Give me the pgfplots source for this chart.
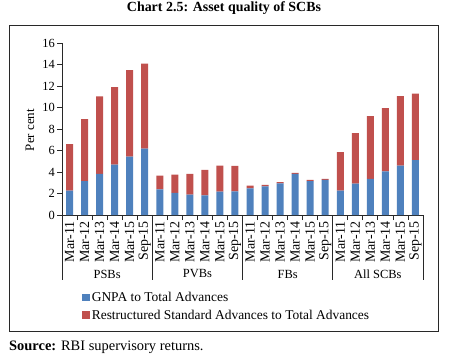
\documentclass[border=0pt]{standalone}
\usepackage{pgfplots}
\pgfplotsset{compat=1.18}
\usepackage{pgfplotstable}
\usepackage{fontspec}
\setmainfont{Liberation Serif}
\definecolor{cblue}{RGB}{79,129,189}
\definecolor{cred}{RGB}{192,80,77}
\definecolor{cline}{RGB}{40,40,40}
\pgfplotstableread{
x gnpa rsa
0 2.26 4.33
1 3.14 5.78
2 3.82 7.21
3 4.69 7.21
4 5.43 8.05
5 6.18 7.89
6 2.39 1.28
7 2.05 1.71
8 1.90 1.92
9 1.83 2.36
10 2.17 2.43
11 2.20 2.37
12 2.48 0.25
13 2.67 0.13
14 2.95 0.12
15 3.82 0.09
16 3.14 0.12
17 3.26 0.09
18 2.27 3.57
19 2.92 4.69
20 3.36 5.84
21 4.07 5.87
22 4.60 6.46
23 5.10 6.20
}\datatable
\begin{document}
\begin{tikzpicture}[x=1bp,y=1bp]
\path[use as bounding box] (0,0) rectangle (451,359);
\draw[line width=0.9bp, cline] (9,28) rectangle (438,334);
\node[font=\fontsize{14}{16}\selectfont\bfseries] at (224,351) {Chart 2.5: Asset quality of SCBs};
\node[anchor=west, font=\fontsize{14.5}{16}\selectfont, inner sep=0] at (9,12) {\textbf{Source:} RBI supervisory returns.};
\begin{axis}[
  at={(62bp,144bp)}, anchor=south west,
  scale only axis, width=361bp, height=172bp,
  xmin=-0.5, xmax=23.5, ymin=0, ymax=16,
  ybar stacked, bar width=7bp,
  axis x line*=bottom, axis y line*=left,
  axis line style={cline, line width=0.8bp, -},
  clip=false,
  tick align=outside,
  ytick={0,2,...,16},
  xtick={0,...,23},
  xticklabels={Mar-11,Mar-12,Mar-13,Mar-14,Mar-15,Sep-15,Mar-11,Mar-12,Mar-13,Mar-14,Mar-15,Sep-15,Mar-11,Mar-12,Mar-13,Mar-14,Mar-15,Sep-15,Mar-11,Mar-12,Mar-13,Mar-14,Mar-15,Sep-15},
  minor xtick={-0.5,0.5,...,23.5},
  major tick length=5bp,
  x tick style={draw=none},
  minor x tick style={draw=cline, line width=0.8bp},
  minor tick length=5bp,
  y tick style={cline, line width=0.8bp},
  /pgf/number format/assume math mode=true,
  yticklabel style={font=\fontsize{12.5}{14}\selectfont, inner sep=2bp},
  xticklabel style={rotate=90, anchor=east, font=\fontsize{14}{15}\selectfont, inner sep=1bp},
  ylabel={Per cent},
  ylabel style={at={(axis description cs:-0.0886,0.494)}, anchor=center, font=\fontsize{13}{15}\selectfont},
  legend style={at={(axis description cs:0.053,-0.43)}, anchor=north west, draw=none, fill=none,
    font=\fontsize{13.5}{15}\selectfont, row sep=3bp, inner sep=1bp},
  legend cell align=left,
  legend image code/.code={\fill[#1] (0bp,-3.5bp) rectangle (7.5bp,4bp);},
]
\addplot[fill=cblue, draw=none] table[x=x, y=gnpa] {\datatable};
\addplot[fill=cred, draw=none] table[x=x, y=rsa] {\datatable};
\legend{GNPA to Total Advances, Restructured Standard Advances to Total Advances}
\pgfplotsinvokeforeach{-0.5,5.5,11.5,17.5,23.5}{
  \draw[cline, line width=0.8bp] (axis cs:#1,0) -- ++(0bp,-65bp);
}
\node[font=\fontsize{12.5}{14}\selectfont] at (axis cs:2.5,0) [yshift=-59bp] {PSBs};
\node[font=\fontsize{12.5}{14}\selectfont] at (axis cs:8.5,0) [yshift=-59bp] {PVBs};
\node[font=\fontsize{12.5}{14}\selectfont] at (axis cs:14.5,0) [yshift=-59bp] {FBs};
\node[font=\fontsize{12.5}{14}\selectfont] at (axis cs:20.5,0) [yshift=-59bp] {All SCBs};
\end{axis}
\end{tikzpicture}
\end{document}
